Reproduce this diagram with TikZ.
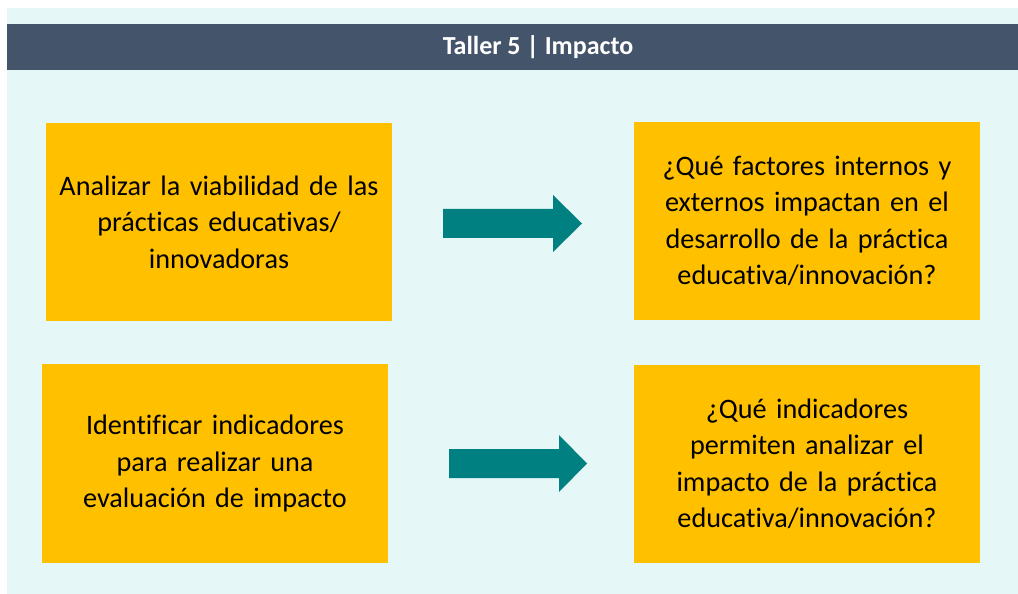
\documentclass[tikz,border=0pt]{standalone}
\usepackage{fontspec}
\setmainfont[Ligatures=NoCommon]{Carlito}
\definecolor{bgcyan}{HTML}{E5F7F7}
\definecolor{headblue}{HTML}{44546A}
\definecolor{boxgold}{HTML}{FFC000}
\definecolor{arrowteal}{HTML}{008080}
\begin{document}
\begin{tikzpicture}[x=1bp,y=-1bp,
  goldbox/.style={fill=boxgold, draw=none, inner sep=0pt, minimum width=346bp, minimum height=198bp,
    text width=340bp, align=center, font=\fontsize{28.2bp}{36.5bp}\selectfont, text=black},
  tealarrow/.style={fill=arrowteal, draw=none}]
\useasboundingbox (0,0) rectangle (1018,594);
\fill[white] (0,0) rectangle (1018,594);
\fill[bgcyan] (7,8) rectangle (1018,594);
\fill[headblue] (7,24) rectangle (1018,70);
\node[text=white, font=\fontsize{26bp}{30bp}\selectfont\bfseries] (title) at (538,47) {Taller 5 | Impacto};
\node[goldbox] (b1) at (219,222) {Analizar la viabilidad de las\\prácticas educativas/\\innovadoras};
\node[goldbox] (b2) at (807,221) {¿Qué factores internos y\\externos impactan en el\\desarrollo de la práctica\\educativa/innovación?};
\node[goldbox] (b3) at (215,463.5) {Identificar indicadores\\para realizar una\\evaluación de impacto};
\node[goldbox] (b4) at (807,464) {¿Qué indicadores\\permiten analizar el\\impacto de la práctica\\educativa/innovación?};
\fill[tealarrow] (443,209) -- (553,209) -- (553,195) -- (582,223.5) -- (553,252) -- (553,238) -- (443,238) -- cycle;
\fill[tealarrow] (449,449) -- (559,449) -- (559,435) -- (587,463.5) -- (559,492) -- (559,478) -- (449,478) -- cycle;
\end{tikzpicture}
\end{document}
